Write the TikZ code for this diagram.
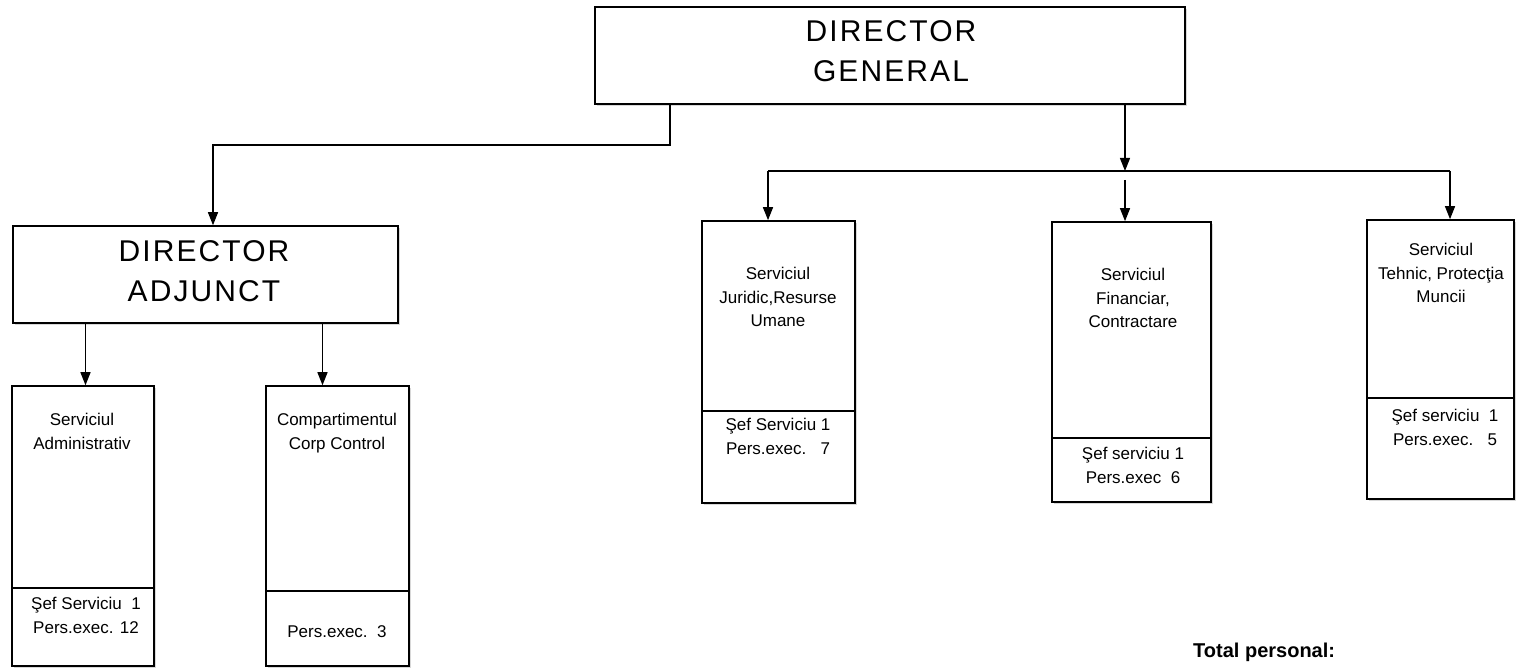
\documentclass[tikz,border=0pt]{standalone}
\usepackage{fontspec}
\setmainfont{Liberation Sans}
\newfontfamily\widefont[LetterSpace=7]{Liberation Sans}
\usepackage{tikz}
\usetikzlibrary{arrows.meta,shadows,positioning}

\begin{document}
\begin{tikzpicture}[x=1pt, y=-1pt, >={Triangle[length=13pt,width=10pt]}, every text node part/.style={align=center},
  box/.style={draw, line width=1.6pt, rectangle, fill=white, inner sep=0pt, drop shadow={shadow xshift=2pt, shadow yshift=-2pt, fill=gray!60}},
  head/.style={inner sep=0pt, anchor=north, font=\widefont\fontsize{30}{40}\selectfont},
  unit/.style={inner sep=0pt, anchor=north, font=\fontsize{17}{23.5}\selectfont},
  link/.style={->, line width=1.3pt}]
\useasboundingbox (0,0) rectangle (1516,668);
\draw
  node at (890,55.5)[box, minimum width=590pt, minimum height=97pt](dg){}
  node at (205.5,274.5)[box, minimum width=385pt, minimum height=97pt](da){}
  node at (83,526)[box, minimum width=142pt, minimum height=280pt](adm){}
  node at (337.5,526)[box, minimum width=143pt, minimum height=280pt](corp){}
  node at (778.5,362)[box, minimum width=153pt, minimum height=282pt](jur){}
  node at (1131.5,362)[box, minimum width=159pt, minimum height=280pt](fin){}
  node at (1440.5,359.5)[box, minimum width=147pt, minimum height=279pt](teh){};
\draw[line width=1.5pt] ([yshift=-203pt]adm.north west) -- ([yshift=-203pt]adm.north east);
\draw[line width=1.5pt] ([yshift=-206pt]corp.north west) -- ([yshift=-206pt]corp.north east);
\draw[line width=1.5pt] ([yshift=-191pt]jur.north west) -- ([yshift=-191pt]jur.north east);
\draw[line width=1.5pt] ([yshift=-217pt]fin.north west) -- ([yshift=-217pt]fin.north east);
\draw[line width=1.5pt] ([yshift=-179pt]teh.north west) -- ([yshift=-179pt]teh.north east);
\draw
  node at (891,20)[head](dgname){DIRECTOR\\GENERAL}
  node at (204,240)[head](daname){DIRECTOR\\ADJUNCT}
  node at (82,413)[unit](admname){Serviciul\\Administrativ}
  node at (86,597)[unit](admstaff){Şef Serviciu\ \ 1\\Pers.exec. 12}
  node at (337,413)[unit](corpname){Compartimentul\\Corp Control}
  node at (337,625)[unit](corpstaff){Pers.exec.\ \ 3}
  node at (778,267)[unit](jurname){Serviciul\\Juridic,Resurse\\Umane}
  node at (778,418)[unit](jurstaff){Şef Serviciu 1\\Pers.exec.\ \ \ 7}
  node at (1133,268)[unit](finname){Serviciul\\Financiar,\\Contractare}
  node at (1133,447)[unit](finstaff){Şef serviciu 1\\Pers.exec\ \ 6}
  node at (1441,243)[unit](tehname){Serviciul\\Tehnic, Protecţia\\Muncii}
  node at (1445,409)[unit](tehstaff){Şef serviciu\ \ 1\\Pers.exec.\ \ \ 5}
  node at (1193,657)[anchor=base west, inner sep=0pt, font=\bfseries\fontsize{20}{24}\selectfont](total){Total personal:};
\coordinate (dgturn) at (670,145);
\coordinate (daturn) at (213,145);
\coordinate (busL) at (768,171);
\coordinate (busM) at (1125,171);
\coordinate (busR) at (1450,171);
\coordinate (busgap) at (1125,180);
\draw[link] (dg.south -| dgturn) -- (dgturn) -- (daturn) -- (daturn |- da.north);
\draw[link] (dg.south -| busM) -- (busM);
\draw[line width=1.3pt] (busL) -- (busR);
\draw[link] (busL) -- (busL |- jur.north);
\draw[link] (busgap) -- (busgap |- fin.north);
\draw[link] (busR) -- (busR |- teh.north);
\draw[link] ([xshift=-120pt]da.south) -- ([xshift=-120pt]da.south |- adm.north);
\draw[link] ([xshift=117pt]da.south) -- ([xshift=117pt]da.south |- corp.north);
\end{tikzpicture}
\end{document}
